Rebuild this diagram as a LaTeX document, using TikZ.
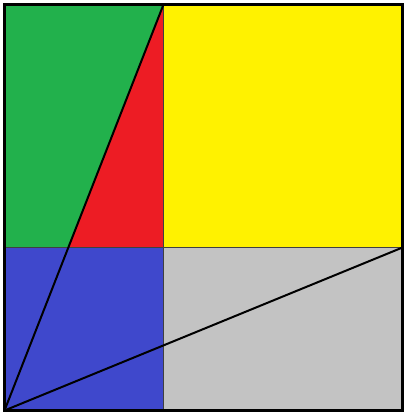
\documentclass[tikz,border=0pt]{standalone}
\definecolor{cgreen}{RGB}{34,177,76}
\definecolor{cred}{RGB}{237,28,36}
\definecolor{cyellow}{RGB}{255,242,0}
\definecolor{cblue}{RGB}{63,72,204}
\definecolor{cgray}{RGB}{195,195,195}
\tikzset{divider/.style={draw=black!75,line width=1.1pt},
  diag/.style={draw=black,line width=1.5pt},
  frame/.style={draw=black,line width=1.8pt}}
\begin{document}
\begin{tikzpicture}[x=0.75pt,y=-0.75pt]
\useasboundingbox (0,0) rectangle (404,416);
\fill[white] (0,0) rectangle (404,416);
\coordinate (TL) at (4.5,4.5);
\coordinate (TM) at (163.5,4.5);
\coordinate (TR) at (402.5,4.5);
\coordinate (ML) at (4.5,247.5);
\coordinate (MM) at (163.5,247.5);
\coordinate (MR) at (402.5,247.5);
\coordinate (BL) at (4.5,410.5);
\coordinate (BM) at (163.5,410.5);
\coordinate (BR) at (402.5,410.5);
\coordinate (X) at (68.3,247.5);
% regions
\fill[cgreen] (TL) -- (TM) -- (X) -- (ML) -- cycle;
\fill[cred] (TM) -- (MM) -- (X) -- cycle;
\fill[cyellow] (TM) rectangle (MR);
\fill[cblue] (ML) rectangle (BM);
\fill[cgray] (MM) rectangle (BR);
% dividers
\draw[divider] (TM) -- (BM);
\draw[divider] (ML) -- (MR);
% diagonals
\draw[diag] (BL) -- (TM);
\draw[diag] (BL) -- (MR);
% frame
\draw[frame] (TL) rectangle (BR);
\end{tikzpicture}
\end{document}
